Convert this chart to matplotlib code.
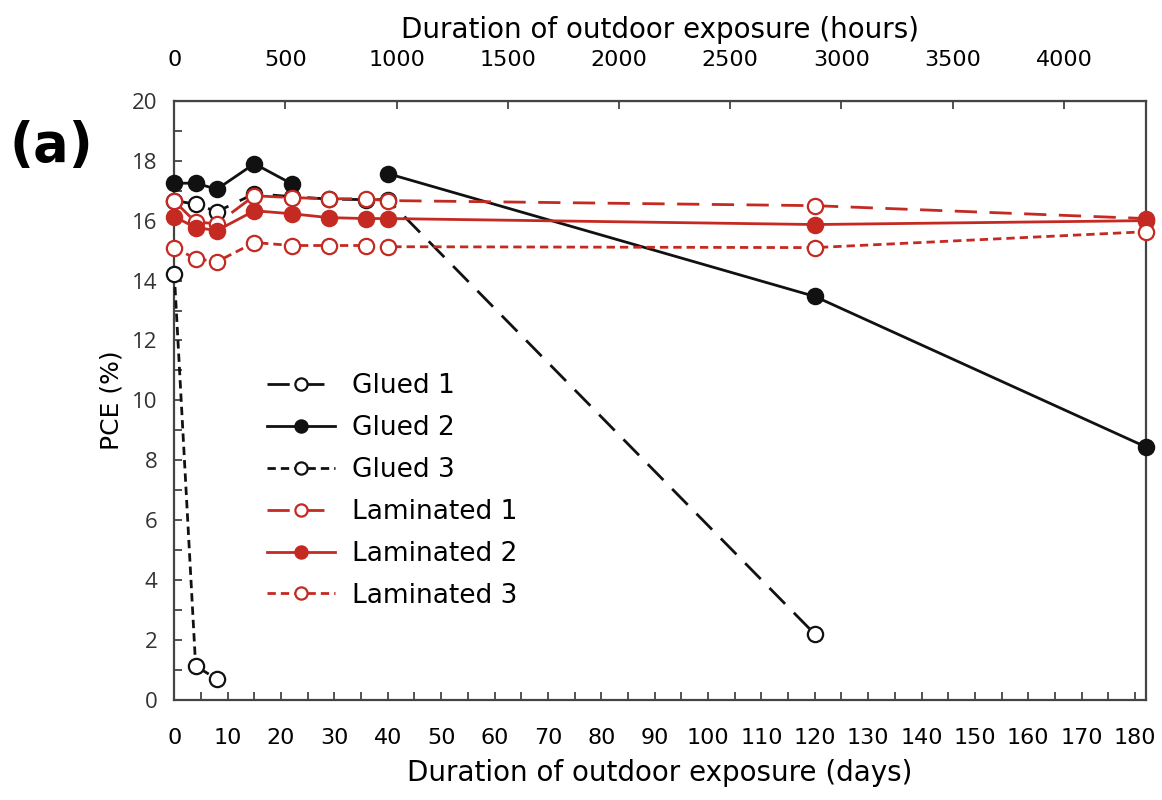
import numpy as np
import matplotlib.pyplot as plt
from matplotlib.ticker import MultipleLocator

days = [0, 4, 8, 15, 22, 29, 36, 40, 120, 182]
nan = np.nan

glued1 = [16.67, 16.55, 16.3, 16.9, 16.8, 16.72, 16.7, 16.7, 2.2, nan]
glued2 = [17.25, 17.25, 17.05, 17.9, 17.23, nan, nan, 17.57, 13.47, 8.45]
glued3 = [14.23, 1.13, 0.7, nan, nan, nan, nan, nan, nan, nan]
lam1 = [16.65, 15.95, 15.9, 16.83, 16.77, 16.73, 16.73, 16.67, 16.5, 16.07]
lam2 = [16.13, 15.77, 15.67, 16.33, 16.23, 16.1, 16.07, 16.07, 15.87, 16.0]
lam3 = [15.1, 14.73, 14.63, 15.27, 15.17, 15.17, 15.17, 15.13, 15.1, 15.63]

hour_ticks = [0, 500, 1000, 1500, 2000, 2500, 3000, 3500, 4000]

red = '#c42a22'
black = '#111111'
long_dash = (8, 4.5)
short_dash = (3, 1.8)

series = [
    ('Glued 1', glued1, black, 'white', long_dash),
    ('Glued 2', glued2, black, black, None),
    ('Glued 3', glued3, black, 'white', short_dash),
    ('Laminated 1', lam1, red, 'white', long_dash),
    ('Laminated 2', lam2, red, red, None),
    ('Laminated 3', lam3, red, 'white', short_dash),
]

fig = plt.figure(figsize=(11.62, 8), dpi=100)
ax = fig.add_axes([0.150, 0.125, 0.836, 0.749])

x = np.array(days, dtype=float)
for name, vals, col, face, dash in series:
    y = np.array(vals, dtype=float)
    line, = ax.plot(x, y, color=col, lw=2, marker='o', ms=11,
                    mfc=face, mec=col, mew=1.6, label=name, clip_on=False,
                    zorder=3)
    if dash is not None:
        line.set_dashes(dash)

ax.set_xlim(0, 182)
ax.set_ylim(0, 20)
ax.xaxis.set_major_locator(MultipleLocator(10))
ax.xaxis.set_minor_locator(MultipleLocator(5))
ax.yaxis.set_major_locator(MultipleLocator(2))
ax.yaxis.set_minor_locator(MultipleLocator(1))
ax.tick_params(which='both', direction='in', length=6, width=1.3,
               color='#444444')
ax.tick_params(axis='x', labelsize=16, pad=20)
ax.tick_params(axis='y', labelsize=16, pad=12)
for lab in ax.get_yticklabels():
    lab.set_family(['Open Sans', 'DejaVu Sans'])
    lab.set_color('#333333')
for sp in ax.spines.values():
    sp.set_color('#444444')
    sp.set_linewidth(1.6)

ax.set_xlabel('Duration of outdoor exposure (days)', fontsize=20,
              labelpad=8)
ax.set_ylabel('PCE (%)', fontsize=18, labelpad=6)

top = ax.secondary_xaxis('top', functions=(lambda d: d * 24, lambda h: h / 24))
top.set_xticks(hour_ticks)
top.tick_params(direction='in', length=6, width=1.3, color='#444444',
                labelsize=16, pad=22)
top.set_xlabel('Duration of outdoor exposure (hours)', fontsize=20,
               labelpad=9)

ax.legend(loc='upper left', bbox_to_anchor=(0.095, 0.545), frameon=False,
          fontsize=19, handlelength=2.6, labelspacing=0.6, borderpad=0,
          borderaxespad=0, handletextpad=0.65, markerscale=0.8)

fig.text(0.008, 0.818, '(a)', fontsize=38, fontweight='bold', va='center')

fig.savefig('out.png', dpi=100)
